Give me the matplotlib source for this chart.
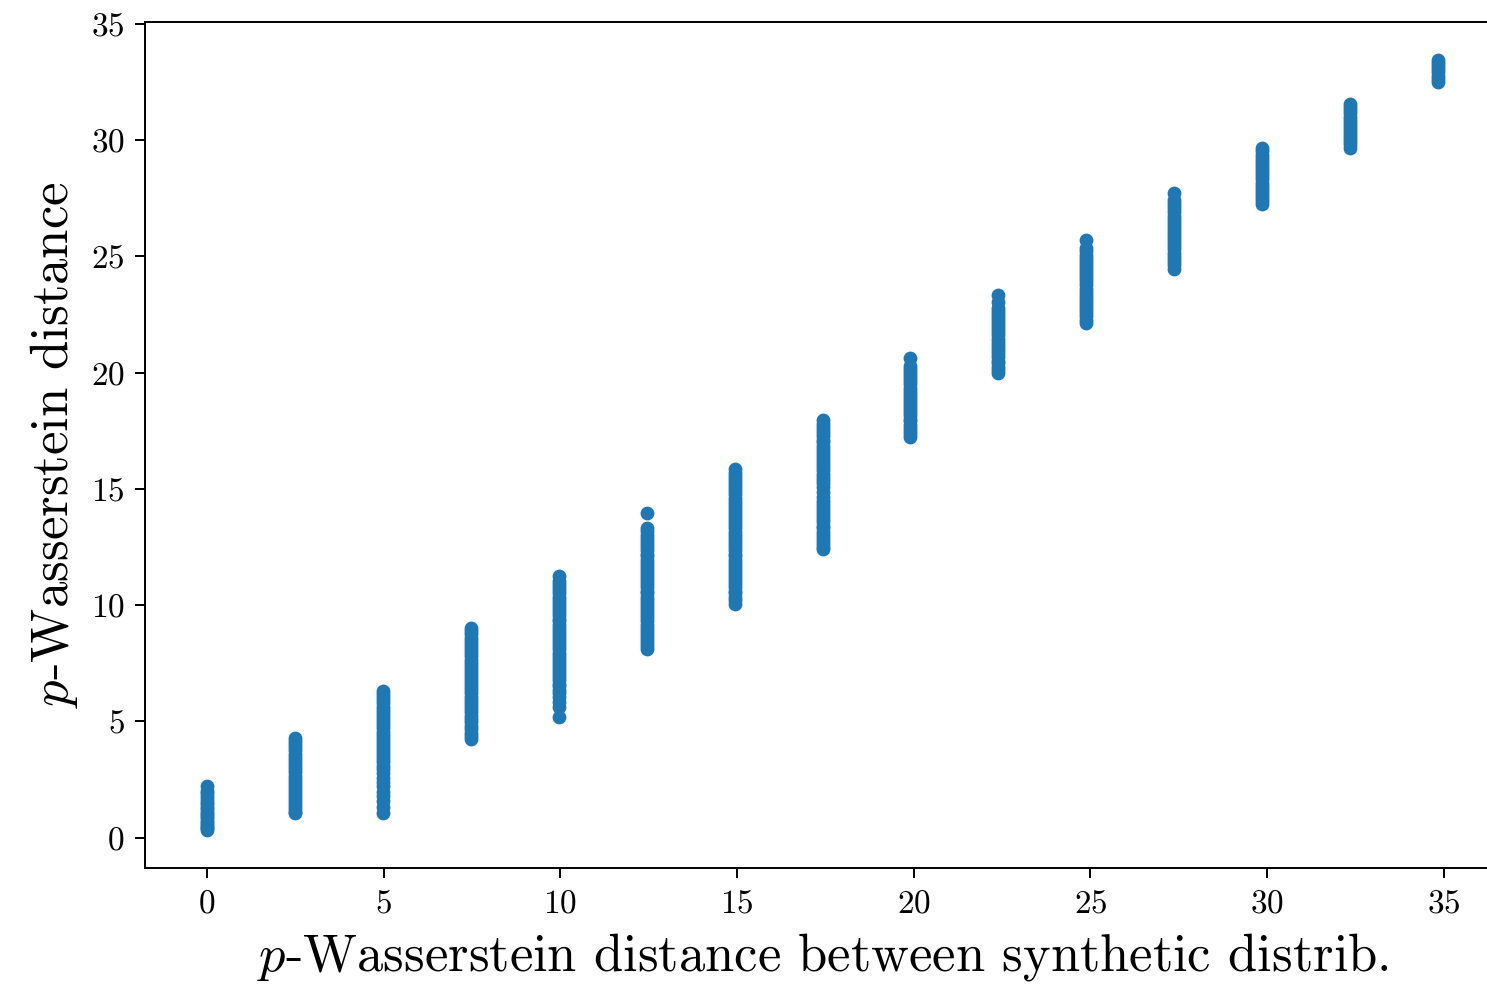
import matplotlib
matplotlib.use('Agg')
import matplotlib.pyplot as plt

plt.rcParams['font.family'] = 'serif'
plt.rcParams['font.serif'] = ['cmr10']
plt.rcParams['mathtext.fontset'] = 'cm'
plt.rcParams['axes.unicode_minus'] = False
plt.rcParams['axes.formatter.use_mathtext'] = True

# x position of each column (synthetic distance)
x_cols = [0, 2.49, 4.98, 7.47, 9.96, 12.45, 14.93, 17.42, 19.91, 22.4,
          24.89, 27.38, 29.87, 32.36, 34.85]

# measured distances in each column
y_cols = [
    [2.2, 2.0, 1.9, 1.78, 1.66, 1.55, 1.44, 1.33, 1.22, 1.12, 1.02, 0.92, 0.82,
     0.72, 0.63, 0.54, 0.46, 0.39, 0.33],
    [4.3, 4.15, 4.02, 3.88, 3.75, 3.6, 3.47, 3.33, 3.2, 3.06, 2.93, 2.8, 2.66,
     2.53, 2.4, 2.27, 2.14, 2.0, 1.87, 1.74, 1.6, 1.47, 1.35, 1.22, 1.1, 1.05],
    [6.3, 6.17, 6.03, 5.9, 5.77, 5.63, 5.5, 5.36, 5.22, 5.1, 4.96, 4.83, 4.7,
     4.56, 4.43, 4.3, 4.16, 4.03, 3.9, 3.76, 3.62, 3.5, 3.38, 3.25, 3.1, 2.95,
     2.78, 2.55, 2.38, 2.2, 1.95, 1.78, 1.56, 1.3, 1.06],
    [9.0, 8.87, 8.74, 8.6, 8.47, 8.33, 8.2, 8.06, 7.93, 7.8, 7.66, 7.52, 7.4,
     7.26, 7.12, 7.0, 6.86, 6.72, 6.6, 6.46, 6.33, 6.2, 6.06, 5.93, 5.8, 5.66,
     5.52, 5.4, 5.25, 5.1, 4.95, 4.8, 4.65, 4.5, 4.35, 4.22],
    [11.25, 11.05, 10.9, 10.77, 10.63, 10.5, 10.36, 10.22, 10.1, 9.96, 9.83,
     9.7, 9.56, 9.42, 9.3, 9.16, 9.03, 8.9, 8.76, 8.62, 8.5, 8.36, 8.22, 8.1,
     7.96, 7.83, 7.7, 7.56, 7.42, 7.3, 7.16, 7.03, 6.9, 6.76, 6.62, 6.5, 6.35,
     6.2, 6.05, 5.85, 5.62, 5.2],
    [13.95, 13.3, 13.17, 13.03, 12.9, 12.76, 12.63, 12.5, 12.36, 12.22, 12.1,
     11.96, 11.83, 11.7, 11.56, 11.42, 11.3, 11.16, 11.03, 10.9, 10.76, 10.62,
     10.5, 10.36, 10.23, 10.1, 9.96, 9.82, 9.7, 9.56, 9.43, 9.3, 9.16, 9.02,
     8.9, 8.76, 8.63, 8.5, 8.36, 8.24, 8.12],
    [15.85, 15.7, 15.57, 15.43, 15.3, 15.16, 15.03, 14.9, 14.76, 14.62, 14.5,
     14.36, 14.23, 14.1, 13.96, 13.82, 13.7, 13.56, 13.43, 13.3, 13.16, 13.02,
     12.9, 12.76, 12.63, 12.5, 12.36, 12.22, 12.1, 11.96, 11.83, 11.7, 11.56,
     11.42, 11.3, 11.16, 11.03, 10.9, 10.76, 10.62, 10.5, 10.36, 10.2, 10.05],
    [17.95, 17.8, 17.67, 17.53, 17.4, 17.26, 17.12, 17.0, 16.86, 16.73, 16.6,
     16.46, 16.32, 16.2, 16.06, 15.93, 15.8, 15.66, 15.52, 15.4, 15.25, 15.1,
     14.88, 14.66, 14.46, 14.34, 14.22, 14.1, 13.96, 13.83, 13.7, 13.56, 13.42,
     13.3, 13.16, 13.03, 12.9, 12.76, 12.62, 12.5, 12.4],
    [20.65, 20.3, 20.17, 20.03, 19.9, 19.76, 19.62, 19.5, 19.36, 19.23, 19.1,
     18.96, 18.82, 18.7, 18.56, 18.43, 18.3, 18.16, 18.02, 17.9, 17.76, 17.62,
     17.5, 17.36, 17.22],
    [23.35, 23.05, 22.8, 22.66, 22.53, 22.4, 22.26, 22.12, 22.0, 21.86, 21.73,
     21.6, 21.46, 21.32, 21.2, 21.06, 20.93, 20.8, 20.66, 20.52, 20.4, 20.26,
     20.12, 19.98],
    [25.72, 25.35, 25.22, 25.08, 24.95, 24.82, 24.68, 24.55, 24.42, 24.28,
     24.15, 24.02, 23.88, 23.75, 23.62, 23.48, 23.35, 23.22, 23.08, 22.95,
     22.82, 22.68, 22.55, 22.42, 22.28, 22.15],
    [27.75, 27.42, 27.3, 27.16, 27.03, 26.9, 26.76, 26.62, 26.5, 26.36, 26.23,
     26.1, 25.96, 25.82, 25.7, 25.56, 25.43, 25.3, 25.16, 25.02, 24.9, 24.76,
     24.62, 24.48],
    [29.65, 29.52, 29.38, 29.25, 29.12, 28.98, 28.85, 28.72, 28.58, 28.45,
     28.32, 28.18, 28.05, 27.92, 27.78, 27.65, 27.52, 27.38, 27.25],
    [31.55, 31.42, 31.28, 31.15, 31.02, 30.88, 30.75, 30.62, 30.48, 30.35,
     30.22, 30.08, 29.95, 29.82, 29.68],
    [33.45, 33.32, 33.18, 33.05, 32.92, 32.78, 32.65, 32.52],
]

xs = []
ys = []
for xv, col in zip(x_cols, y_cols):
    xs += [xv] * len(col)
    ys += col

fig = plt.figure(figsize=(14.87, 9.85), dpi=100)
ax = fig.add_axes([0.0978, 0.1183, 0.9109, 0.8597])

ax.scatter(xs, ys, s=80, color='#1f77b4')

ax.set_xlim(-1.74, 36.59)
ax.set_ylim(-1.33, 35.1)
ax.set_xticks([0, 5, 10, 15, 20, 25, 30, 35])
ax.set_yticks([0, 5, 10, 15, 20, 25, 30, 35])

ax.set_xlabel(r'$p$-Wasserstein distance between synthetic distrib.',
              fontsize=37.8, labelpad=9)
ax.set_ylabel(r'$p$-Wasserstein distance', fontsize=38, labelpad=8)
ax.tick_params(labelsize=24, length=7, width=1.4, pad=8)
for sp in ax.spines.values():
    sp.set_linewidth(1.4)

fig.savefig('out.png', dpi=100)
